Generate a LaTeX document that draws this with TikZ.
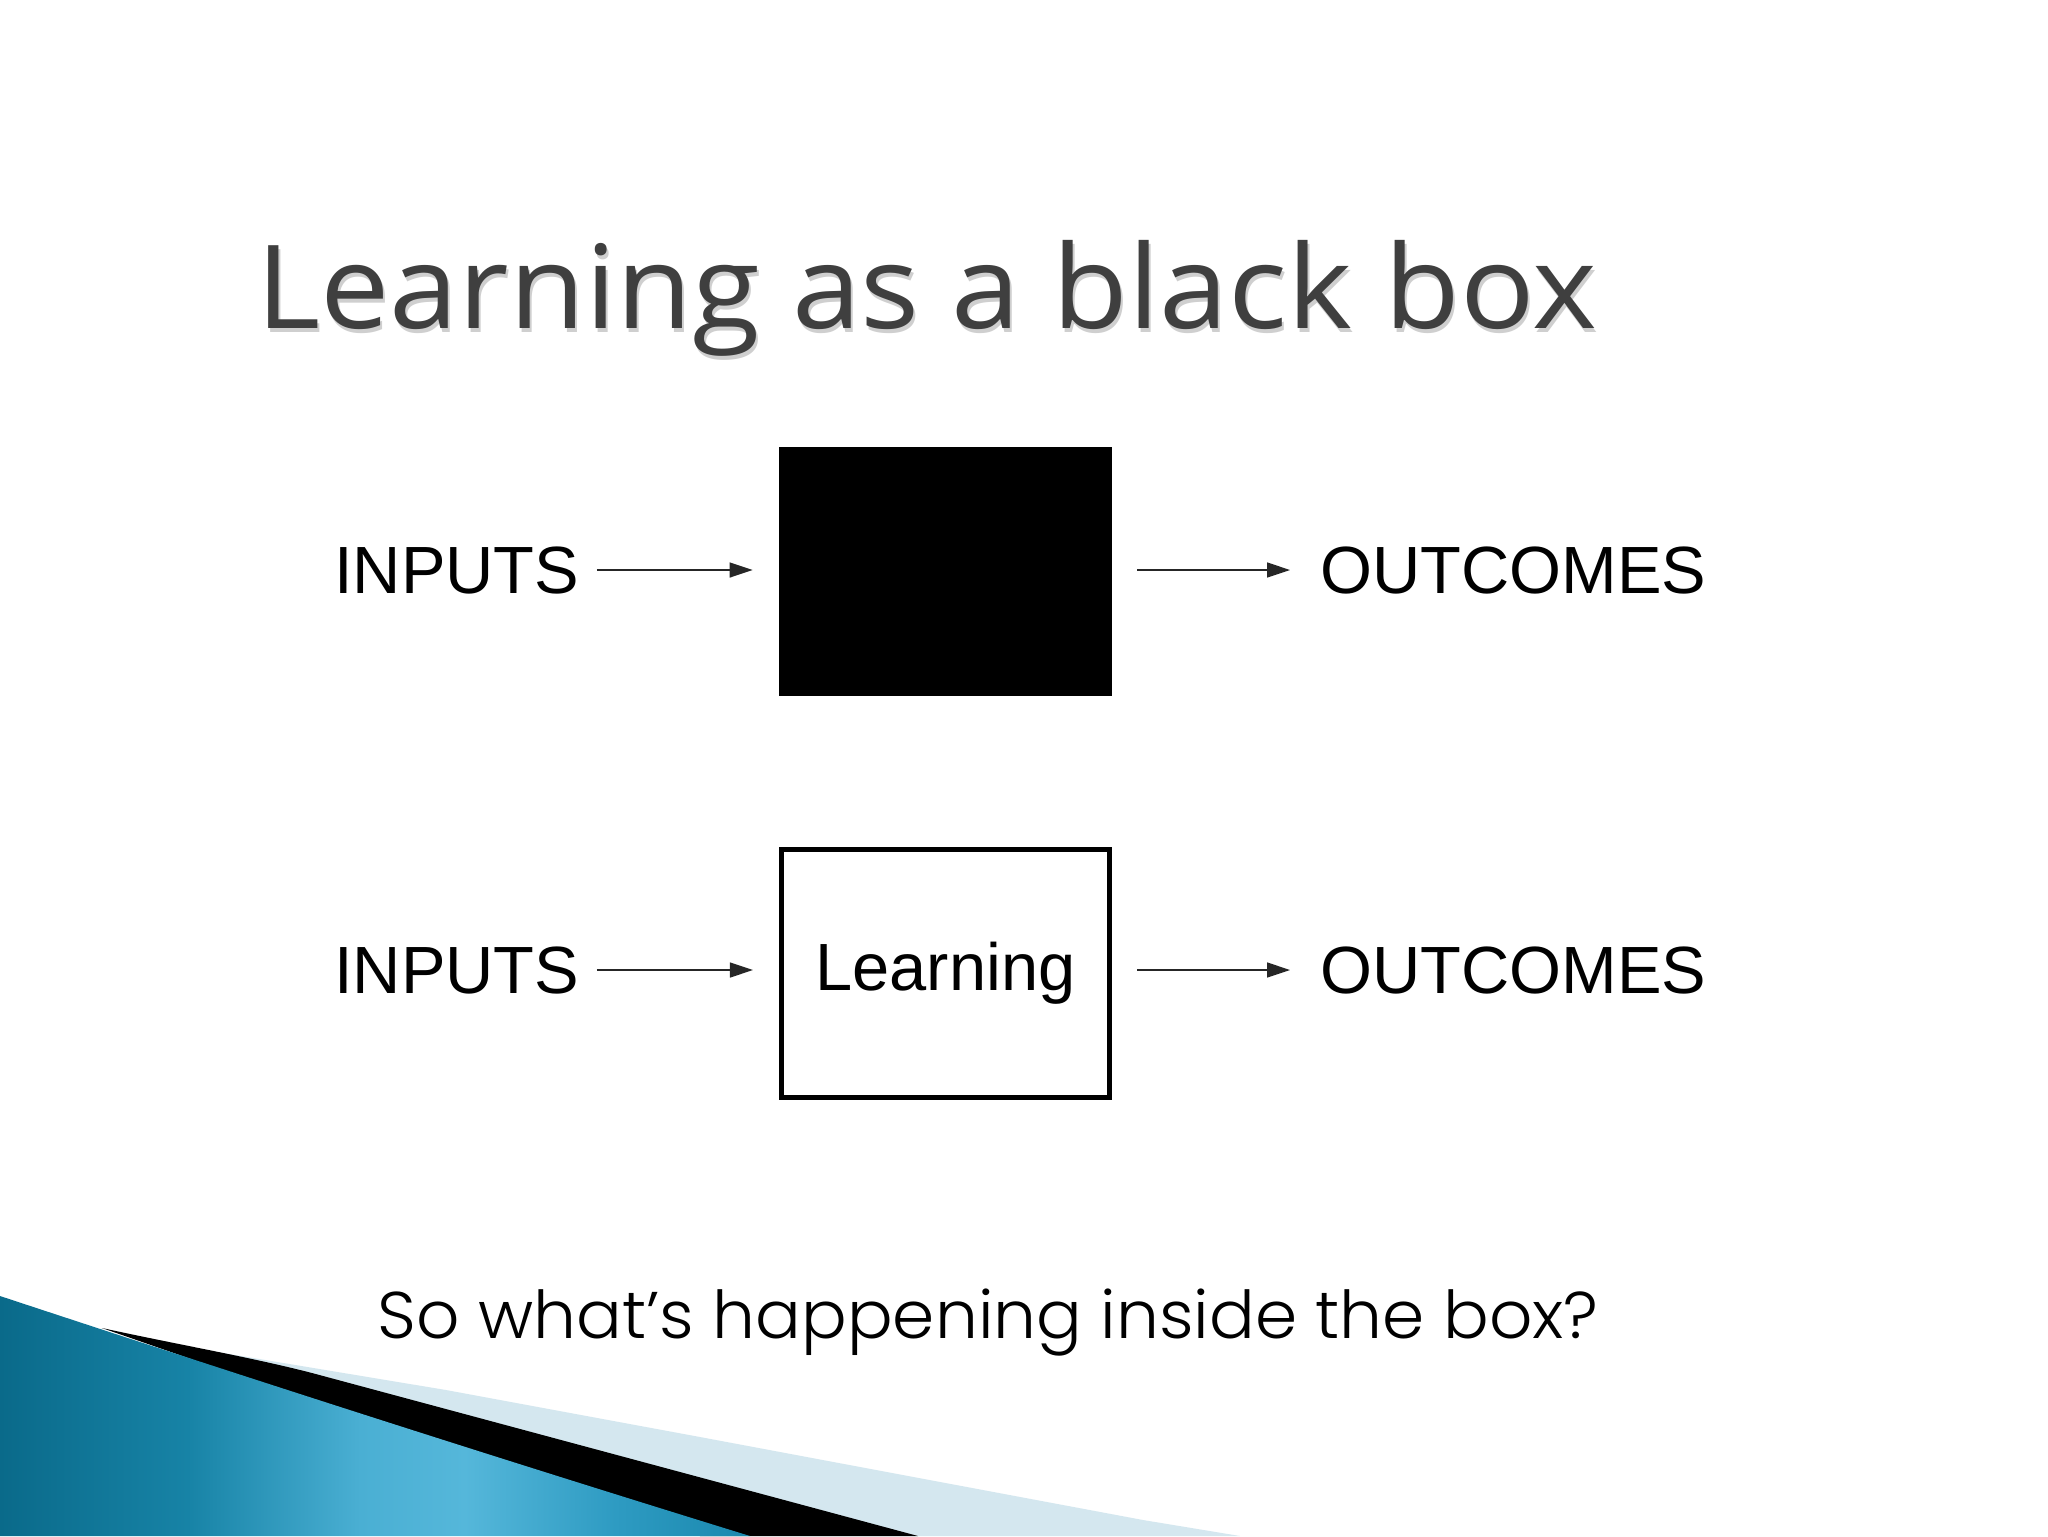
\documentclass[tikz,border=0pt]{standalone}
\usepackage{fontspec}
\usetikzlibrary{arrows.meta}
\newfontfamily\titlefont{Open Sans}[FakeStretch=1.066]
\newfontfamily\arialfont{Liberation Sans}
\IfFontExistsTF{Poppins Light}{\newfontfamily\gothfont{Poppins Light}[FakeStretch=1.027]}{\newfontfamily\gothfont{Poppins}[FakeStretch=1.02]}
\definecolor{titlegray}{HTML}{3F3F3F}
\definecolor{shadowgray}{HTML}{CFCFCF}
\definecolor{paleblue}{HTML}{D4E7EF}
\definecolor{tealA}{HTML}{0A6A8A}
\definecolor{tealB}{HTML}{1783A6}
\definecolor{tealC}{HTML}{4AAFD3}
\definecolor{tealD}{HTML}{55B7DA}
\definecolor{tealE}{HTML}{2E9BC2}
\definecolor{tealF}{HTML}{1A88AE}
\pgfdeclarehorizontalshading{tealshade}{100bp}{color(0bp)=(tealA); color(25bp)=(tealA); color(37.5bp)=(tealB); color(49bp)=(tealC); color(56bp)=(tealD); color(66bp)=(tealE); color(75bp)=(tealF); color(100bp)=(tealF)}
\tikzset{
  lbl/.style={font=\arialfont\fontsize{33.4pt}{38pt}\selectfont, inner sep=0pt, text=black},
  arr/.style={-{Triangle[length=11.5pt,width=7.5pt]}, line width=0.75pt, draw=black!85},
  blackbox/.style={rectangle, fill=black, draw=none, minimum width=166.5pt, minimum height=124.5pt, inner sep=0pt},
  learnbox/.style={rectangle, draw=black, line width=2.6pt, fill=white, minimum width=164pt, minimum height=124pt, inner sep=0pt, font=\arialfont\fontsize{33.4pt}{38pt}\selectfont}
}
\begin{document}
\begin{tikzpicture}[x=0.5pt,y=-0.5pt]
\useasboundingbox (0,0) rectangle (2048,1536);
\fill[white] (0,0) rectangle (2048,1536);
% bottom-left decoration
\fill[paleblue] (100,1328) -- (187,1347) -- (446,1390) -- (700,1437) -- (1143,1520) -- (1240,1536) -- (800,1536) -- cycle;
\fill[black] (102,1328) .. controls (180,1345) and (250,1357) .. (312,1373) -- (918,1536) -- (700,1536) -- cycle;
\shade[shading=tealshade]
  (0,1296) .. controls (300,1395) and (520,1465) .. (750,1536) -- (0,1536) -- cycle;
% title
\node[anchor=base west, inner sep=0pt, text=shadowgray, font=\titlefont\fontsize{58pt}{64pt}\selectfont] (titleshadow) at (258,332) {Learning as a black box};
\node[anchor=base west, inner sep=0pt, text=titlegray, font=\titlefont\fontsize{58pt}{64pt}\selectfont] (title) at (256,328) {Learning as a black box};
% row 1
\node[blackbox] (box1) at (945.5,571.5) {};
\node[lbl, anchor=base west] (in1) at (334,593) {INPUTS};
\node[lbl, anchor=base west] (out1) at (1320,593) {OUTCOMES};
\draw[arr, shorten <=8.5pt, shorten >=13pt] (in1.east) -- (in1.east -| box1.west);
\draw[arr, shorten <=12.5pt, shorten >=15pt] (out1.west -| box1.east) -- (out1.west);
% row 2
\node[learnbox] (box2) at (945.5,973.5) {Learning};
\node[lbl, anchor=base west] (in2) at (334,993) {INPUTS};
\node[lbl, anchor=base west] (out2) at (1320,993) {OUTCOMES};
\draw[arr, shorten <=8.5pt, shorten >=13pt] (in2.east) -- (in2.east -| box2.west);
\draw[arr, shorten <=12.5pt, shorten >=15pt] (out2.west -| box2.east) -- (out2.west);
% question
\node[anchor=base west, inner sep=0pt, font=\gothfont\fontsize{33pt}{40pt}\selectfont] (question) at (377,1338) {So what’s happening inside the box?};
\end{tikzpicture}
\end{document}
